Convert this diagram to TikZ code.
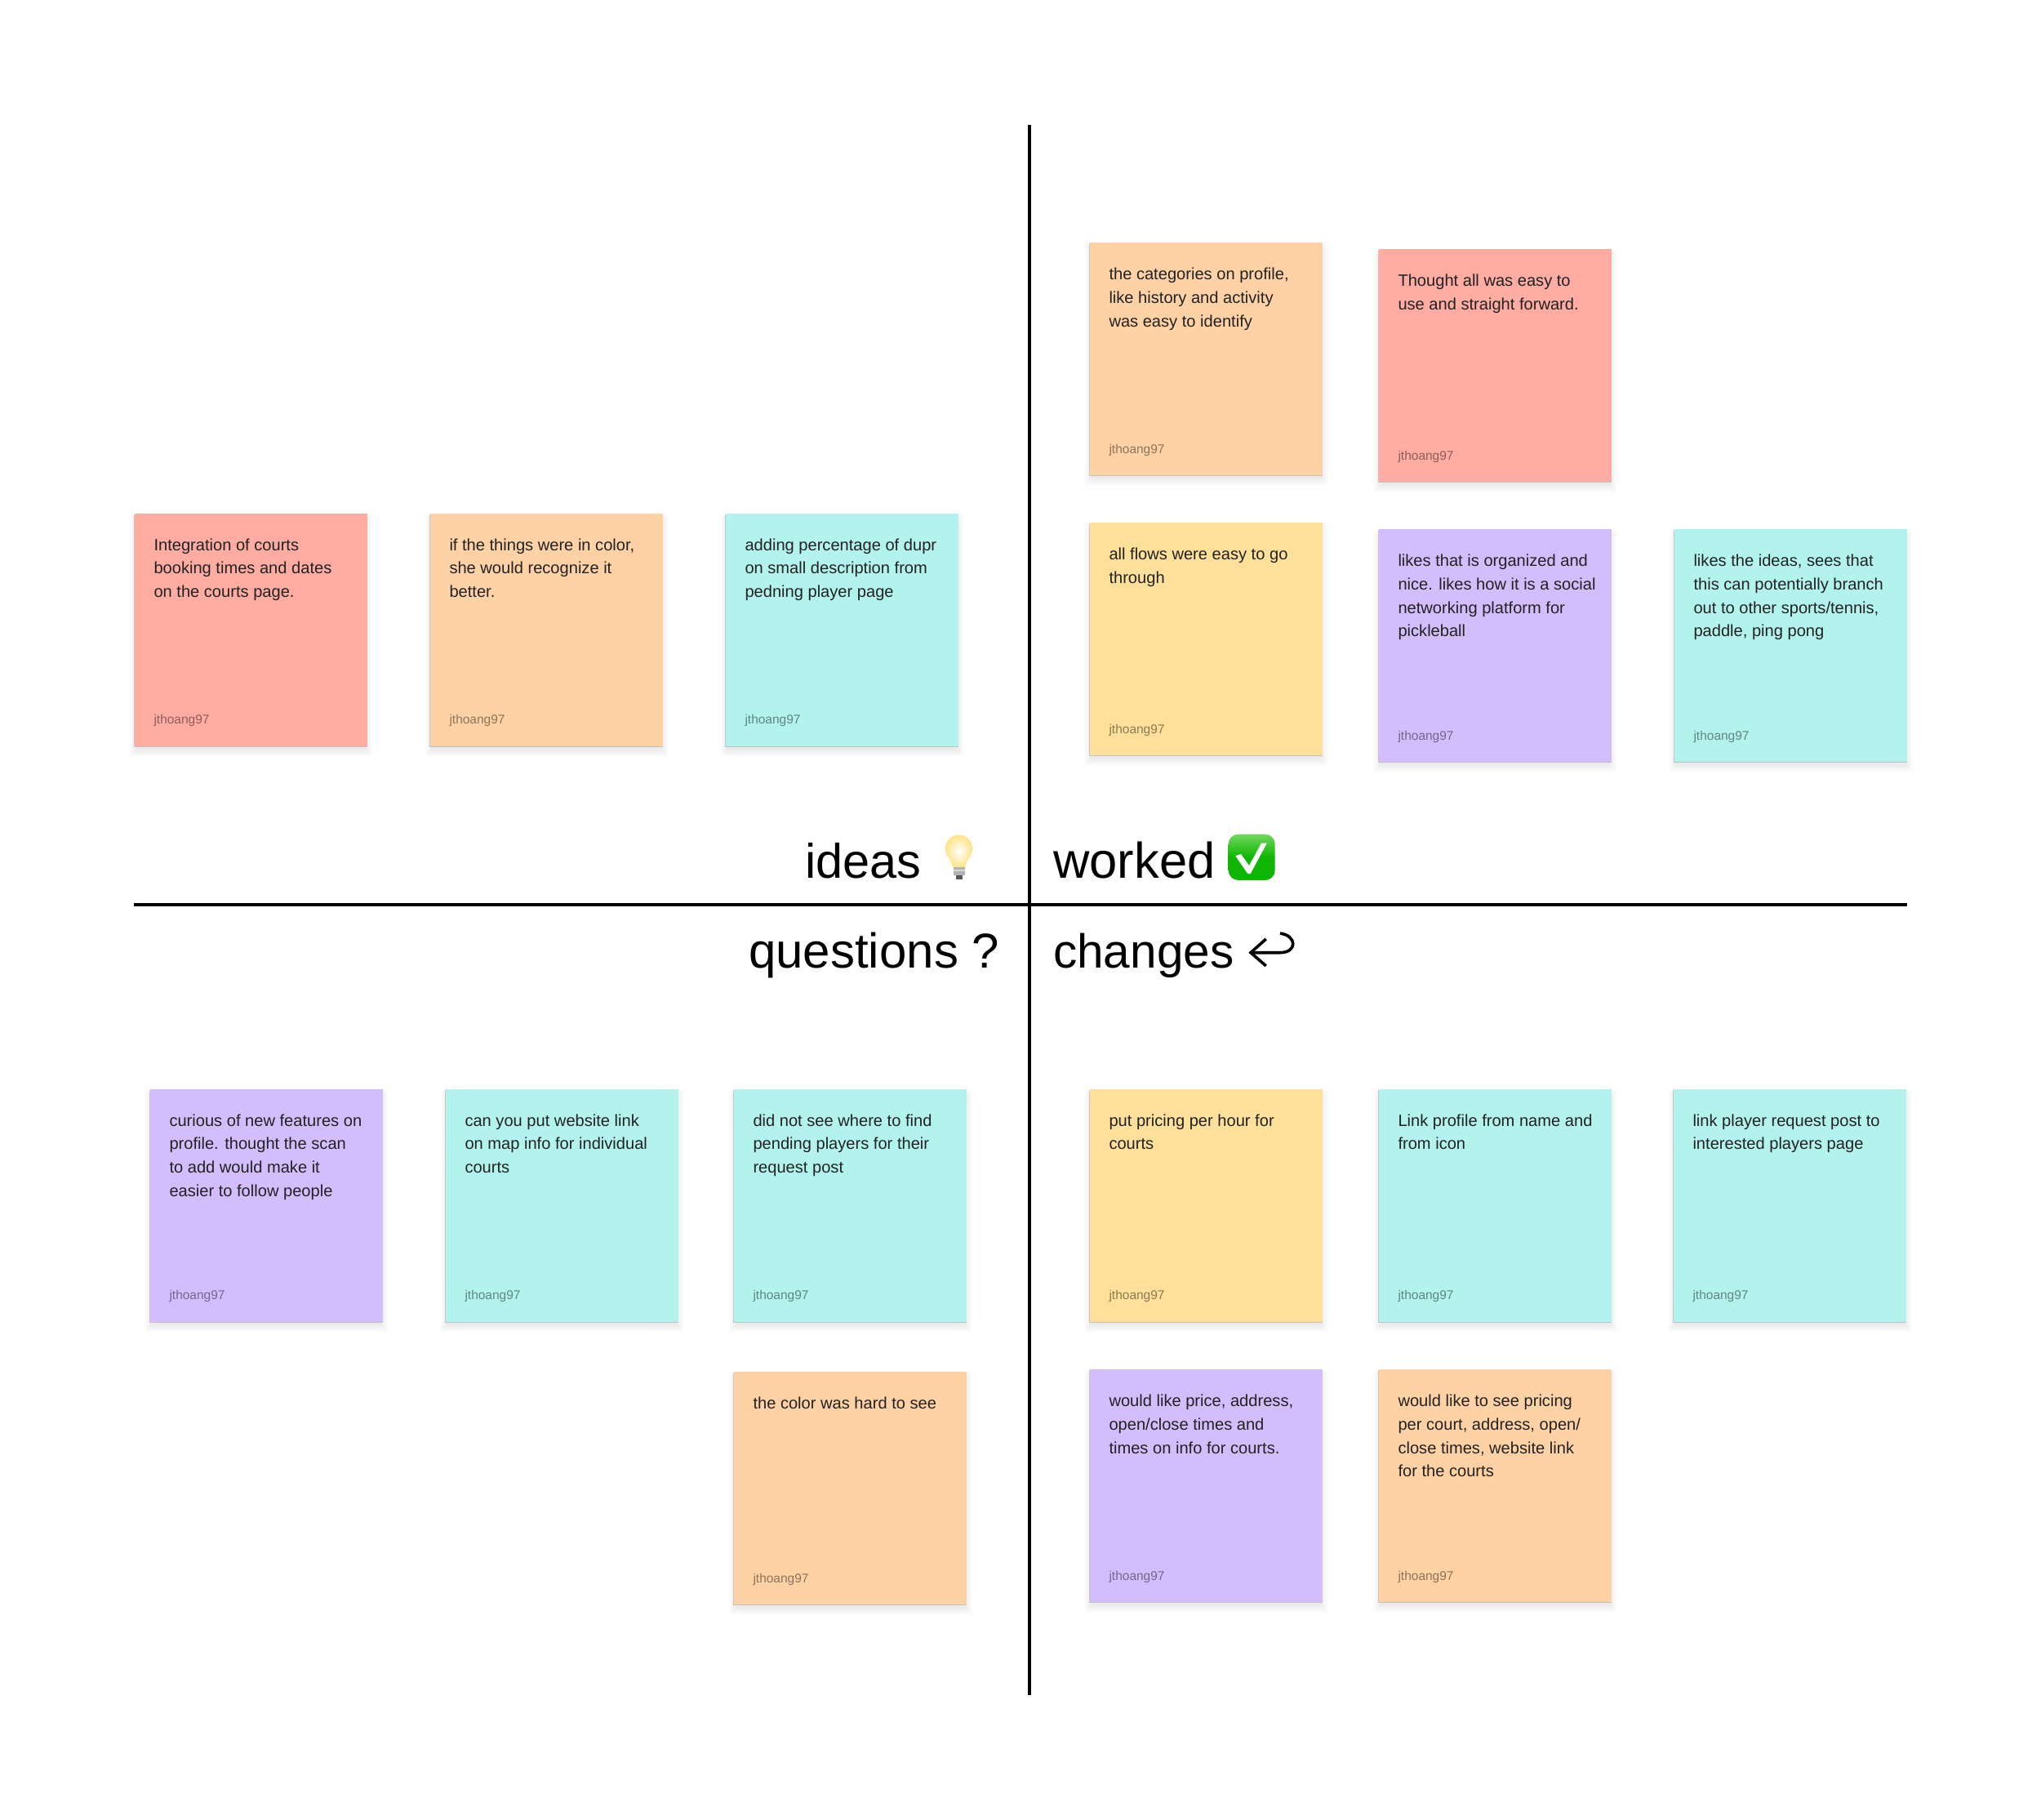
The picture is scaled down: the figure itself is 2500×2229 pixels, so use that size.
\documentclass[tikz,border=0pt]{standalone}
\usepackage{fontspec}
\setmainfont{Liberation Sans}
\definecolor{corange}{HTML}{FFD2A6}
\definecolor{cred}{HTML}{FFACA3}
\definecolor{cteal}{HTML}{B3F3ED}
\definecolor{cpurple}{HTML}{D3BDFC}
\definecolor{cyellow}{HTML}{FFE09A}
\definecolor{ink}{HTML}{222222}
\definecolor{checkgreen}{HTML}{0FB500}
\definecolor{checklight}{HTML}{6FD860}
\definecolor{bulbedge}{HTML}{FFE487}
\tikzset{
  x=1pt,y=-1pt,
  cardbox/.style={draw=none,rectangle,minimum width=285pt,minimum height=285pt,inner sep=0pt,anchor=north west},
  bodytext/.style={anchor=north west,inner sep=0pt,align=left,text=ink,font=\fontsize{20.1}{28.7}\selectfont},
  authortext/.style={anchor=base west,inner sep=0pt,text=black,text opacity=.45,font=\fontsize{15.5}{18}\selectfont},
  axis/.style={draw=black,line width=4pt},
  heading/.style={anchor=base west,inner sep=0pt,text=black},
}
\newcommand{\card}[5]{%
  \foreach \k in {1,...,10}{\fill[black,opacity=.009] (#2+3-\k,#3+10-\k) rectangle (#2+282+\k,#3+285+3+\k);}
  \fill[black,opacity=.18] (#2-.4,#3+1) rectangle (#2+285.4,#3+286);
  \node[cardbox,fill=#4] (#1) at (#2,#3) {};
  \node[bodytext] (#1t) at ([xshift=23.6pt,yshift=-29.5pt]#1.north west) {\rule{0pt}{16pt}#5};
  \node[authortext] (#1a) at ([xshift=23.6pt,yshift=27.3pt]#1.south west) {jthoang97};
}
\begin{document}
\begin{tikzpicture}
\useasboundingbox (0,0) rectangle (2500,2229);
\fill[white] (0,0) rectangle (2500,2229);
\coordinate (vt) at (1261,153);
\coordinate (vb) at (1261,2076);
\coordinate (hl) at (164,1107.5);
\coordinate (hr) at (2336,1107.5);
\draw[axis] (vt) -- (vb);
\draw[axis] (hl) -- (hr);
\card{a}{164.7}{628.5}{cred}{Integration of courts\\booking times and dates\\on the courts page.}
\card{b}{526.7}{628.5}{corange}{if the things were in color,\\she would recognize it\\better.}
\card{c}{888.7}{628.5}{cteal}{adding percentage of dupr\\on small description from\\pedning player page}
\card{d}{1334.7}{297}{corange}{the categories on profile,\\like history and activity\\was easy to identify}
\card{e}{1688.7}{305}{cred}{Thought all was easy to\\use and straight forward.}
\card{f}{1334.7}{640}{cyellow}{all flows were easy to go\\through}
\card{g}{1688.7}{648}{cpurple}{likes that is organized and\\nice. likes how it is a social\\networking platform for\\pickleball}
\card{h}{2050.7}{648}{cteal}{likes the ideas, sees that\\this can potentially branch\\out to other sports/tennis,\\paddle, ping pong}
\card{i}{183.7}{1333.5}{cpurple}{curious of new features on\\profile. thought the scan\\to add would make it\\easier to follow people}
\card{j}{545.7}{1333.5}{cteal}{can you put website link\\on map info for individual\\courts}
\card{k}{898.7}{1333.5}{cteal}{did not see where to find\\pending players for their\\request post}
\card{l}{898.7}{1680}{corange}{the color was hard to see}
\card{m}{1334.7}{1333.5}{cyellow}{put pricing per hour for\\courts}
\card{n}{1688.7}{1333.5}{cteal}{Link profile from name and\\from icon}
\card{o}{2049.7}{1333.5}{cteal}{link player request post to\\interested players page}
\card{p}{1334.7}{1677}{cpurple}{would like price, address,\\open/close times and\\times on info for courts.}
\card{q}{1688.7}{1677}{corange}{would like to see pricing\\per court, address, open/\\close times, website link\\for the courts}
\node[heading,font=\fontsize{59.5}{70}\selectfont] (h1) at (986,1075) {ideas};
\node[heading,font=\fontsize{61.5}{70}\selectfont] (h2) at (1290,1075) {worked};
\node[heading,font=\fontsize{60}{70}\selectfont] (h3) at (917,1185) {questions ?};
\node[heading,font=\fontsize{58.5}{70}\selectfont] (h4) at (1290,1185) {changes};
% bulb
\shade[inner color=white,middle color=white!50!bulbedge,outer color=bulbedge] (1174.5,1022.7) .. controls (1164,1022.7) and (1158,1031) .. (1158,1039) .. controls (1158,1049) and (1165,1053) .. (1167,1062) -- (1182,1062) .. controls (1184,1053) and (1191,1049) .. (1191,1039) .. controls (1191,1031) and (1185,1022.7) .. (1174.5,1022.7) -- cycle;
\fill[gray!60] (1168,1062) rectangle (1181.5,1072);
\fill[gray!30] (1168,1065) rectangle (1181.5,1067);
\fill[black!65] (1170.5,1072) rectangle (1179,1076.5);
% check
\shade[top color=checklight,bottom color=checkgreen,middle color=checkgreen,rounded corners=12pt] (1504.7,1021.7) rectangle (1561.7,1078);
\fill[white] (1513.3,1048.3) -- (1520,1046) -- (1530,1060) -- (1545,1032.7) -- (1551.7,1032.7) -- (1531.7,1070) -- (1528.3,1070) -- cycle;
% arrow
\draw[line width=3.6pt,black] (1568,1143) .. controls (1589,1146) and (1589,1166.7) .. (1568,1166.7) -- (1532,1166.7);
\draw[line width=3.6pt,black,line join=miter] (1550.7,1150) -- (1532,1166.7) -- (1550.7,1183);
\end{tikzpicture}
\end{document}
